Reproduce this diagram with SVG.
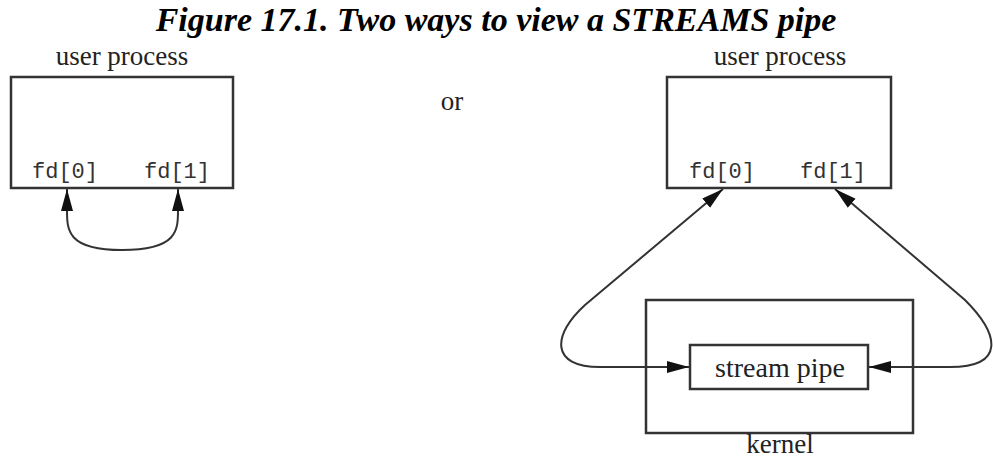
<svg xmlns="http://www.w3.org/2000/svg" width="993" height="459" viewBox="0 0 993 459">
<defs>
<marker id="ah" markerUnits="userSpaceOnUse" markerWidth="24" markerHeight="14" refX="22" refY="6" orient="auto">
<path d="M0,0 L22,6 L0,12 Z" fill="#111"/>
</marker>
<style>
.box{fill:none;stroke:#333;stroke-width:2.5}
.con{fill:none;stroke:#333;stroke-width:2}
.lbl{font-family:"Liberation Serif",serif;font-size:27px;fill:#222;text-anchor:middle}
.mono{font-family:"Liberation Mono",monospace;font-size:22px;fill:#333;text-anchor:middle}
.title{font-family:"Liberation Serif",serif;font-size:34px;font-weight:bold;font-style:italic;fill:#000;text-anchor:middle}
</style>
</defs>
<rect width="993" height="459" fill="#fff"/>
<text class="title" x="496" y="31">Figure 17.1. Two ways to view a STREAMS pipe</text>
<text class="lbl" x="452" y="110">or</text>
<g id="left-process">
<rect class="box" x="11" y="77" width="222" height="111"/>
<text class="lbl" x="122" y="65">user process</text>
<text class="mono" x="65" y="178">fd[0]</text>
<text class="mono" x="177" y="178">fd[1]</text>
</g>
<g id="right-process">
<rect class="box" x="667" y="77" width="224" height="111"/>
<text class="lbl" x="780" y="65">user process</text>
<text class="mono" x="722" y="178">fd[0]</text>
<text class="mono" x="833" y="178">fd[1]</text>
</g>
<g id="kernel">
<rect class="box" x="646" y="300" width="267" height="133"/>
<text class="lbl" x="780" y="453">kernel</text>
</g>
<g id="stream-pipe">
<rect class="box" x="690" y="345" width="178" height="44"/>
<text class="lbl" x="780" y="377" style="font-size:28px">stream pipe</text>
</g>
<g id="connectors">
<path class="con" d="M122,250 C67,250 67,230 67,210 L67,189" marker-end="url(#ah)"/>
<path class="con" d="M122,250 C178,250 178,230 178,210 L178,189" marker-end="url(#ah)"/>
<path class="con" d="M600,367 C550,367 552,335 585,305 L723,189" marker-end="url(#ah)"/>
<path class="con" d="M600,367 L689,367" marker-end="url(#ah)"/>
<path class="con" d="M950,367 C1005,367 1000,335 965,300 L835,189" marker-end="url(#ah)"/>
<path class="con" d="M950,367 L869,367" marker-end="url(#ah)"/>
</g>
</svg>
